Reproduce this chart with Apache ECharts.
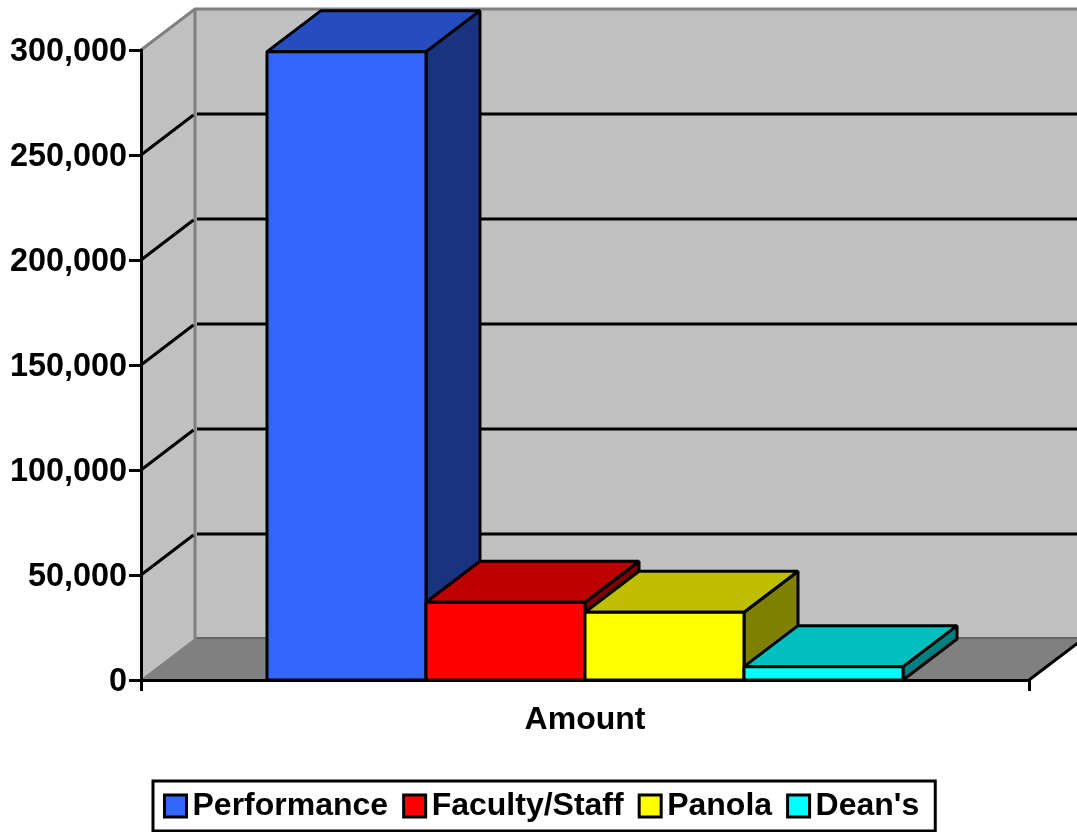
<!DOCTYPE html>
<html>
<head>
<meta charset="utf-8">
<style>html,body{margin:0;padding:0;background:#fff}#c{width:1077px;height:832px}</style>
<script src="https://cdn.jsdelivr.net/npm/echarts@6/dist/echarts.min.js"></script>
</head>
<body>
<div id="c"></div>
<script>
var categories = ['Amount'];
var seriesNames = ['Performance', 'Faculty/Staff', 'Panola', "Dean's"];
var performance = [299200];
var facultyStaff = [37000];
var panola = [32250];
var deans = [6350];
var gridValues = [50000, 100000, 150000, 200000, 250000];
var frontColors = ['#3366FF', '#FF0000', '#FFFF00', '#00FFFF'];
var topColors = ['#264DBF', '#BF0000', '#BFBF00', '#00BFBF'];
var sideColors = ['#193380', '#800000', '#808000', '#008080'];

var DX = 54, DY = -41, BAR_FRAC = 159 / 888;
var FONT = '"Liberation Sans", Arial, sans-serif';
var chart = echarts.init(document.getElementById('c'), null, {renderer: 'canvas'});

function poly(pts, fill, stroke, w) {
  return {type: 'polygon', shape: {points: pts},
    style: {fill: fill, stroke: stroke || null, lineWidth: w || 0, lineJoin: 'bevel'}};
}
function line(pts, stroke, w) {
  return {type: 'polyline', shape: {points: pts}, style: {fill: null, stroke: stroke, lineWidth: w}};
}

function renderWalls(params, api) {
  var band = api.size([1, 0])[0];
  var c0 = api.coord([0, 0]), c1 = api.coord([0, 300000]);
  var l = c0[0] - band / 2, r = c0[0] + band / 2, b = c0[1], t = c1[1];
  var backR = r + DX;
  return {type: 'group', children: [
    poly([[l + DX, t + DY], [backR, t + DY], [backR, b + DY], [l + DX, b + DY]], '#C0C0C0'),
    poly([[l, t], [l + DX, t + DY], [l + DX, b + DY], [l, b]], '#C0C0C0'),
    poly([[l, b], [l + DX, b + DY], [backR, b + DY], [r, b]], '#808080'),
    line([[l + DX, b + DY - 1], [backR, b + DY - 1]], '#666666', 2),
    line([[l, t], [l + DX, t + DY], [backR, t + DY]], '#808080', 3),
    line([[l + DX, t + DY], [l + DX, b + DY]], '#808080', 3),
    line([[l, b], [l + DX, b + DY]], '#808080', 1.5),
    line([[r, b], [backR, b + DY]], '#000000', 3)
  ]};
}
function renderGrid(params, api) {
  var band = api.size([1, 0])[0];
  var c = api.coord([0, api.value(0)]);
  var l = c[0] - band / 2, r = c[0] + band / 2;
  return {type: 'group', children: [
    line([[l, c[1]], [l + DX - 1.5, c[1] + DY + 1]], '#000000', 3),
    line([[l + DX + 2, c[1] + DY], [r + DX, c[1] + DY]], '#000000', 3)
  ]};
}
function barRenderer(idx) {
  return function (params, api) {
    var band = api.size([1, 0])[0];
    var w = band * BAR_FRAC;
    var c = api.coord([0, api.value(0)]);
    var base = api.coord([0, 0]);
    var x0 = c[0] - 2 * w + idx * w, x1 = x0 + w, yt = c[1], yb = base[1];
    var s = '#000000', lw = 3;
    return {type: 'group', children: [
      poly([[x1, yt], [x1 + DX, yt + DY], [x1 + DX, yb + DY], [x1, yb]], sideColors[idx], s, lw),
      poly([[x0, yt], [x0 + DX, yt + DY], [x1 + DX, yt + DY], [x1, yt]], topColors[idx], s, lw),
      poly([[x0, yt], [x1, yt], [x1, yb], [x0, yb]], frontColors[idx], s, lw)
    ]};
  };
}
var allValues = [performance, facultyStaff, panola, deans];
var series = [
  {name: 'walls', type: 'custom', renderItem: renderWalls, data: [[0]], z: 1, silent: true, animation: false},
  {name: 'gridlines', type: 'custom', renderItem: renderGrid, data: gridValues.map(function (v) { return [v]; }),
    encode: {y: 0}, z: 2, silent: true, animation: false}
];
seriesNames.forEach(function (n, i) {
  series.push({name: n, type: 'custom', renderItem: barRenderer(i),
    data: allValues[i].map(function (v) { return [v]; }), encode: {y: 0},
    itemStyle: {color: frontColors[i]}, z: 3, animation: false});
});

chart.setOption({
  animation: false,
  backgroundColor: '#fff',
  grid: {left: 141, right: 48, top: 50, bottom: 152, containLabel: false},
  xAxis: {type: 'category', data: categories, z: 6,
    axisLine: {show: true, lineStyle: {color: '#000', width: 3}},
    axisTick: {show: true, length: 11, lineStyle: {color: '#000', width: 3}},
    axisLabel: {color: '#000', fontFamily: FONT, fontWeight: 'bold', fontSize: 32, margin: 24},
    splitLine: {show: false}},
  yAxis: {type: 'value', min: 0, max: 300000, interval: 50000, z: 6,
    axisLine: {show: true, lineStyle: {color: '#000', width: 3}},
    axisTick: {show: true, length: 12, lineStyle: {color: '#000', width: 3}},
    axisLabel: {color: '#000', fontFamily: FONT, fontWeight: 'bold', fontSize: 32.4, margin: 14,
      verticalAlign: 'top', lineHeight: 4,
      formatter: function (v) { return v.toLocaleString('en-US'); }},
    splitLine: {show: false}},
  legend: {data: seriesNames, left: 153, top: 781, orient: 'horizontal',
    padding: [9, 16, 9, 10], itemGap: 14, itemWidth: 22, itemHeight: 22, icon: 'rect',
    borderColor: '#000', borderWidth: 3, backgroundColor: '#fff', selectedMode: false,
    itemStyle: {borderColor: '#000', borderWidth: 3},
    textStyle: {color: '#000', fontFamily: FONT, fontWeight: 'bold', fontSize: 32, padding: [2, 0, 0, 1]}},
  series: series
});
</script>
</body>
</html>
